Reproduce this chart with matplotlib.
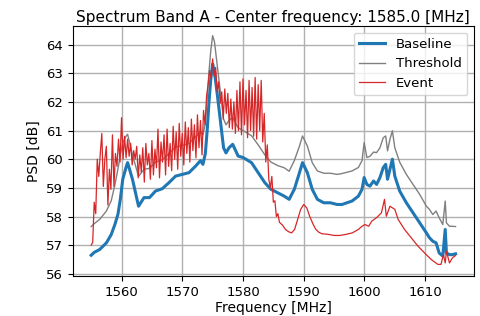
import matplotlib
matplotlib.use("Agg")
import matplotlib.pyplot as plt
import numpy as np

# Smooth curves: frequency grid (MHz), baseline and threshold (dB)
freq_smooth = [1555.0, 1555.5, 1556.4, 1557.5, 1558.3, 1558.9, 1559.4, 1559.8, 1560.2, 1560.8,
               1561.0, 1561.8, 1562.8, 1563.7, 1564.6, 1565.6, 1566.7, 1567.8, 1568.9, 1570.0,
               1571.1, 1572.2, 1573.0, 1573.4, 1573.8, 1574.1, 1574.4, 1574.7, 1575.0, 1575.3,
               1575.8, 1576.3, 1576.8, 1577.2, 1577.7, 1578.3, 1579.2, 1580.0, 1581.4, 1582.5,
               1583.6, 1584.6, 1585.7, 1586.8, 1587.6, 1588.45, 1589.3, 1589.8, 1590.6, 1591.4,
               1592.25, 1593.3, 1594.4, 1595.5, 1596.3, 1597.95, 1599.0, 1599.6, 1599.95, 1600.4,
               1600.9, 1601.5, 1602.0, 1602.55, 1603.1, 1603.5, 1603.8, 1604.2, 1604.6, 1605.0,
               1605.8, 1606.9, 1608.0, 1609.1, 1610.2, 1610.7, 1611.25, 1611.8, 1612.3, 1612.9,
               1613.3, 1613.5, 1614.0, 1614.5, 1615.0]
baseline = [56.65, 56.75, 56.85, 57.08, 57.37, 57.72, 58.07, 58.60, 59.30, 59.76,
            59.88, 59.30, 58.36, 58.66, 58.66, 58.89, 58.97, 59.18, 59.41, 59.47,
            59.53, 59.76, 59.95, 59.82, 60.20, 61.00, 62.00, 62.80, 63.32, 63.05,
            62.20, 61.30, 60.40, 60.22, 60.40, 60.52, 60.11, 60.06, 59.88, 59.53,
            59.18, 58.95, 58.83, 58.71, 58.60, 58.95, 59.53, 59.88, 59.53, 58.95,
            58.60, 58.48, 58.48, 58.42, 58.42, 58.54, 58.71, 58.95, 59.36, 59.12,
            59.06, 59.24, 59.12, 59.36, 59.71, 59.82, 59.30, 59.65, 60.00, 59.41,
            58.89, 58.48, 58.13, 57.78, 57.43, 57.26, 57.14, 57.08, 56.73, 56.62,
            57.55, 56.73, 56.67, 56.67, 56.70]
threshold = [57.65, 57.75, 57.90, 58.19, 58.55, 59.10, 59.65, 60.15, 60.58, 60.82,
             60.87, 60.15, 59.40, 59.65, 59.68, 59.90, 59.98, 60.20, 60.42, 60.48,
             60.55, 60.78, 60.97, 60.85, 61.25, 62.10, 63.05, 63.80, 64.31, 64.10,
             63.20, 62.30, 61.40, 61.20, 61.35, 61.45, 61.10, 61.00, 60.82, 60.50,
             60.15, 59.90, 59.78, 59.70, 59.58, 59.95, 60.46, 60.81, 60.46, 59.88,
             59.59, 59.51, 59.51, 59.47, 59.50, 59.59, 59.71, 59.95, 60.58, 60.06,
             60.10, 60.25, 60.23, 60.40, 60.75, 60.81, 60.29, 60.70, 60.99, 60.40,
             59.90, 59.47, 59.12, 58.77, 58.36, 58.25, 58.07, 58.19, 57.96, 57.72,
             58.54, 57.78, 57.66, 57.66, 57.65]

# Event curve: dense part 1555-1585 every 0.25 MHz, then sparse points
event_dense_start = 1555.0
event_dense_step = 0.25
event_dense = [57.00, 57.10, 58.50, 58.10, 60.00, 59.40, 60.20, 60.90, 59.05, 60.00,
               60.45, 58.40, 59.65, 58.95, 60.85, 59.05, 60.20, 59.75, 60.70, 59.90,
               61.45, 60.00, 60.80, 60.05, 60.70, 60.10, 60.55, 59.80, 60.30, 60.00,
               60.45, 59.35, 60.15, 59.55, 60.40, 59.20, 60.55, 59.80, 60.20, 59.30,
               60.65, 59.45, 60.35, 59.70, 61.05, 59.35, 60.60, 59.90, 60.85, 59.45,
               61.05, 59.75, 60.55, 59.60, 61.15, 60.00, 60.95, 59.65, 61.25, 60.10,
               60.90, 59.80, 61.30, 60.20, 61.10, 59.90, 61.40, 60.30, 61.20, 60.05,
               61.55, 60.40, 61.35, 60.15, 61.70, 61.20, 62.20, 62.60, 63.10, 62.80,
               63.50, 62.90, 63.20, 62.35, 62.70, 61.95, 62.35, 61.40, 62.45, 61.60,
               62.30, 61.10, 62.10, 61.05, 62.00, 60.90, 62.40, 61.00, 62.70, 60.85,
               62.80, 61.20, 62.40, 60.75, 62.75, 61.00, 62.50, 60.80, 62.85, 60.70,
               62.60, 61.00, 62.75, 60.60, 61.60, 59.90, 60.50, 59.30, 59.00, 59.40,
               58.50]
event_tail_freq = [1585.25, 1585.5, 1585.75, 1586.0, 1586.5, 1587.0, 1587.5, 1588.0, 1588.5, 1589.0,
                   1589.5, 1590.0, 1590.5, 1591.0, 1591.5, 1592.0, 1592.5, 1593.0, 1594.0, 1595.0,
                   1596.0, 1597.0, 1598.0, 1599.0, 1599.6, 1600.1, 1600.7, 1601.2, 1602.0, 1602.8,
                   1603.3, 1603.6, 1604.2, 1605.0, 1605.55, 1606.6, 1607.7, 1608.8, 1609.9, 1611.0,
                   1612.1, 1612.6, 1613.0, 1613.3, 1613.5, 1614.0, 1614.5, 1615.0]
event_tail = [58.55, 58.00, 58.10, 57.80, 57.70, 57.55, 57.47, 57.43, 57.55, 57.90,
              58.25, 58.42, 58.30, 58.00, 57.75, 57.55, 57.45, 57.40, 57.38, 57.34,
              57.34, 57.38, 57.43, 57.55, 57.66, 57.72, 57.66, 57.84, 57.96, 58.13,
              58.60, 58.01, 58.36, 58.25, 57.90, 57.55, 57.26, 56.97, 56.73, 56.50,
              56.33, 56.33, 56.67, 56.38, 56.79, 56.38, 56.56, 56.64]

event_freq = [event_dense_start + event_dense_step * i for i in range(len(event_dense))] + event_tail_freq
event = event_dense + event_tail

title = "Spectrum Band A - Center frequency: 1585.0 [MHz]"
xticks = [1560, 1570, 1580, 1590, 1600, 1610]
yticks = [56, 57, 58, 59, 60, 61, 62, 63, 64]

fig = plt.figure(figsize=(4.8, 3.16), dpi=100)
ax = fig.add_axes([0.152, 0.127, 0.835, 0.791])
ax.plot(freq_smooth, baseline, color="#1f77b4", lw=2.2, label="Baseline")
ax.plot(freq_smooth, threshold, color="grey", lw=1.0, label="Threshold")
ax.plot(event_freq, event, color="#d62728", lw=0.9, label="Event")
ax.set_xlim(1552, 1618)
ax.set_ylim(55.93, 64.65)
ax.set_xticks(xticks)
ax.set_yticks(yticks)
ax.grid(True, color="#b0b0b0", lw=1.0)
ax.tick_params(labelsize=9.5)
ax.set_xlabel("Frequency [MHz]", fontsize=10, labelpad=2)
ax.set_ylabel("PSD [dB]", fontsize=10, labelpad=4)
ax.set_title(title, fontsize=11, pad=3)
ax.legend(loc="upper right", fontsize=9.5)
fig.savefig("out.png", dpi=100)
